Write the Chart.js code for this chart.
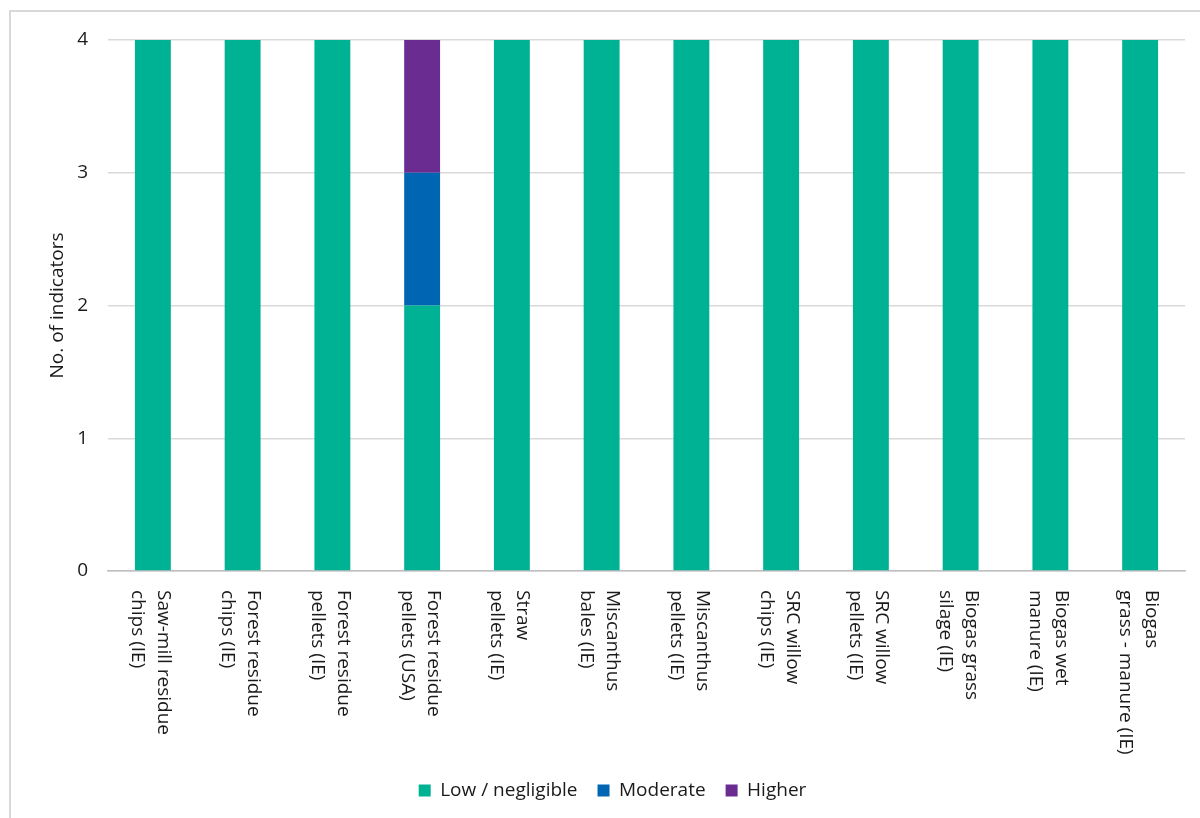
<!DOCTYPE html>
<html lang="en">
<head>
    <meta charset="UTF-8">
    <title>No. of indicators</title>
    <script src="https://cdn.jsdelivr.net/npm/chart.js"></script>
    <style>
        body { margin: 0; background: #fff; }
        #wrap { position: relative; width: 1200px; height: 818px; overflow: hidden; }
        #frame { position: absolute; left: 9px; top: 10px; width: 1300px; height: 900px;
                  border-left: 2px solid #d9d9d9; border-top: 2px solid #d9d9d9; pointer-events: none; }
    </style>
</head>
<body>
    <div id="wrap">
        <canvas id="myChart" width="1200" height="818"></canvas>
        <div id="frame"></div>
    </div>
    <script>
        // categories (each one split on lines, as in the original)
        const categories = [
            ['Saw-mill residue', 'chips (IE)'],
            ['Forest residue', 'chips (IE)'],
            ['Forest residue', 'pellets (IE)'],
            ['Forest residue', 'pellets (USA)'],
            ['Straw', 'pellets (IE)'],
            ['Miscanthus', 'bales (IE)'],
            ['Miscanthus', 'pellets (IE)'],
            ['SRC willow', 'chips (IE)'],
            ['SRC willow', 'pellets (IE)'],
            ['Biogas grass', 'silage (IE)'],
            ['Biogas wet', 'manure (IE)'],
            ['Biogas', 'grass - manure (IE)']
        ];
        const lowValues      = [4, 4, 4, 2, 4, 4, 4, 4, 4, 4, 4, 4];
        const moderateValues = [0, 0, 0, 1, 0, 0, 0, 0, 0, 0, 0, 0];
        const higherValues   = [0, 0, 0, 1, 0, 0, 0, 0, 0, 0, 0, 0];
        const yTicks = [0, 1, 2, 3, 4];

        const FONT = "'Open Sans', sans-serif";
        const TEXT = '#1a1a1a';

        // x labels read top to bottom, so draw them ourselves
        const verticalLabels = {
            id: 'verticalLabels',
            afterDraw(chart) {
                const xs = chart.scales.x;
                const ctx = chart.ctx;
                const lh = 26;
                ctx.save();
                ctx.font = '19px ' + FONT;
                ctx.fillStyle = TEXT;
                ctx.textAlign = 'left';
                ctx.textBaseline = 'middle';
                categories.forEach((lines, i) => {
                    const x = xs.getPixelForTick(i);
                    ctx.save();
                    ctx.translate(x - 2, xs.top + 19);
                    ctx.rotate(Math.PI / 2);
                    lines.forEach((ln, j) => {
                        ctx.fillText(ln, 0, (j - (lines.length - 1) / 2) * lh);
                    });
                    ctx.restore();
                });
                ctx.restore();
            }
        };

        const ctx = document.getElementById('myChart').getContext('2d');
        const myChart = new Chart(ctx, {
            type: 'bar',
            data: {
                labels: categories,
                datasets: [
                    { label: 'Low / negligible', data: lowValues, backgroundColor: '#00b294' },
                    { label: 'Moderate', data: moderateValues, backgroundColor: '#0066b3' },
                    { label: 'Higher', data: higherValues, backgroundColor: '#6b2c91' }
                ]
            },
            options: {
                responsive: false,
                animation: false,
                layout: { padding: { left: 40, right: 15, top: 40, bottom: 8 } },
                datasets: { bar: { categoryPercentage: 1, barPercentage: 0.4 } },
                plugins: {
                    tooltip: { enabled: false },
                    legend: {
                        position: 'bottom',
                        labels: {
                            boxWidth: 12,
                            boxHeight: 12,
                            padding: 20,
                            color: TEXT,
                            font: { family: FONT, size: 19 }
                        }
                    }
                },
                scales: {
                    x: {
                        stacked: true,
                        grid: { display: false, drawTicks: false },
                        border: { color: '#bfbfbf', width: 1.5 },
                        ticks: { display: false },
                        afterFit: (scale) => { scale.height = 190; }
                    },
                    y: {
                        stacked: true,
                        min: 0,
                        max: 4,
                        afterBuildTicks: (scale) => { scale.ticks = yTicks.map(v => ({ value: v })); },
                        afterFit: (scale) => { scale.width = 68; },
                        ticks: {
                            padding: 20,
                            color: TEXT,
                            font: { family: FONT, size: 19 }
                        },
                        grid: { color: '#d9d9d9', lineWidth: 1.5, drawTicks: false },
                        border: { display: false },
                        title: {
                            display: true,
                            text: 'No. of indicators',
                            color: TEXT,
                            font: { family: FONT, size: 19 },
                            padding: { top: 6, bottom: 0 }
                        }
                    }
                }
            },
            plugins: [verticalLabels]
        });
    </script>
</body>
</html>
